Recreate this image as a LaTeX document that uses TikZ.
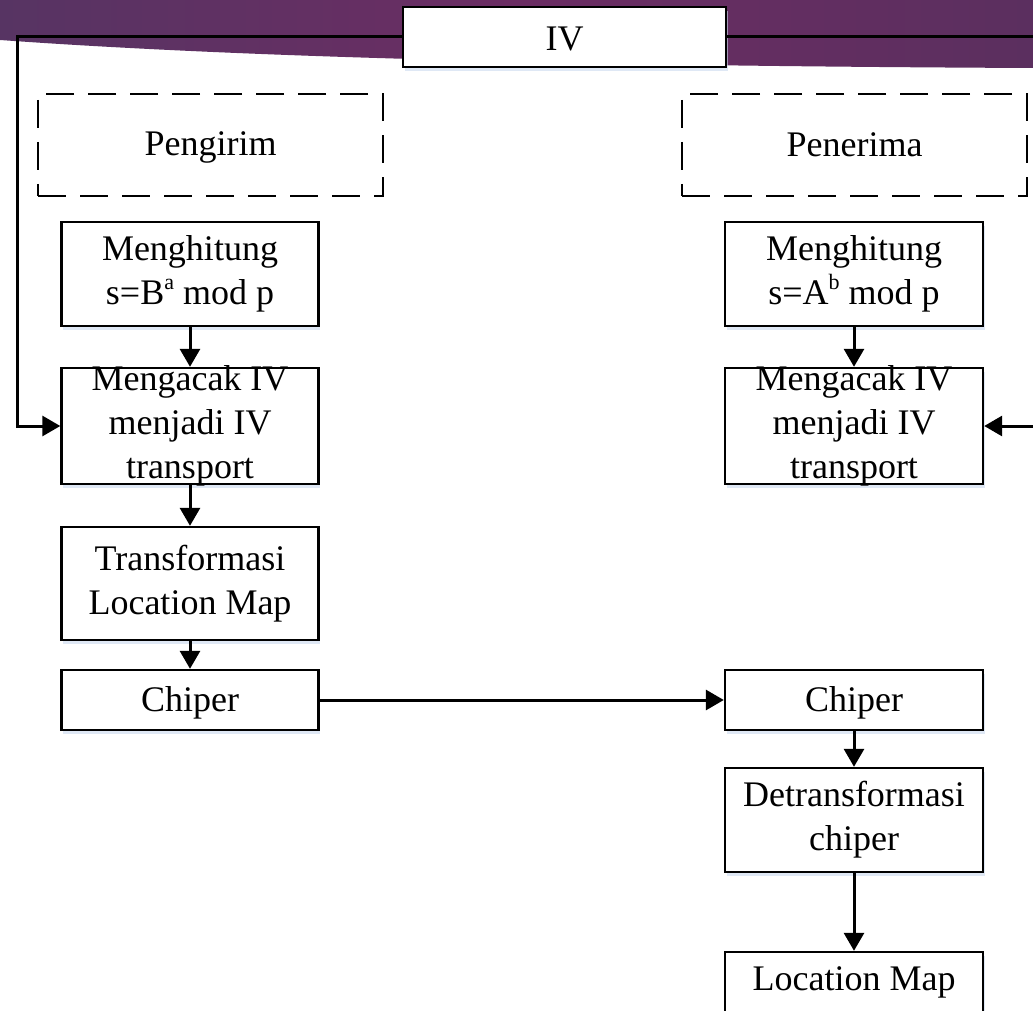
\documentclass[tikz,border=0pt]{standalone}
\usepackage{fontspec}
\setmainfont{Liberation Serif}
\usetikzlibrary{arrows.meta,shadows}
\definecolor{bandL}{HTML}{573463}
\definecolor{bandM}{HTML}{6B2D63}
\definecolor{bandR}{HTML}{5B2F5F}
\definecolor{shadowblue}{HTML}{C9D9EE}
\newcommand{\supx}[1]{\raisebox{0.42em}{\fontsize{22}{22}\selectfont #1}}
\begin{document}
\begin{tikzpicture}[x=1pt,y=-1pt,
  box/.style={draw, line width=2.4pt, fill=white, inner sep=0pt,
    drop shadow={shadow xshift=1.5pt, shadow yshift=-4pt, fill=shadowblue, opacity=0.6}},
  dbox/.style={draw, line width=2.4pt, dash pattern=on 28pt off 14pt, inner sep=0pt,
    minimum width=345pt, minimum height=102pt},
  txt/.style={font=\fontsize{36}{44}\selectfont, align=center, inner sep=0pt},
  arr/.style={line width=3pt, -{Triangle[length=18pt,width=20pt]}},
  ]
\useasboundingbox (0,0) rectangle (1033,1011);
\clip (0,0) rectangle (1033,1011);

% top band
\shade[left color=bandL, right color=bandR, middle color=bandM]
  (0,0) -- (1033,0) -- (1033,68) .. controls (600,66) and (250,58) .. (0,40) -- cycle;

% IV box
\node[box, minimum width=323pt, minimum height=60pt] (iv) at (564.5,37) {};
\node[txt] (ivt) at (564.5,39) {IV};

% dashed headers
\node[dbox] (peng) at (210.5,145) {};
\node[txt] (pengt) at (210.5,147) {Pengirim};
\node[dbox] (pene) at (854.5,145) {};
\node[txt] (penet) at (854.5,145) {Penerima};

% left column
\node[box, minimum width=257pt, minimum height=104pt] (L1) at (190,274) {};
\node[txt] (L1t) at (L1) {Menghitung\\s=B\supx{a} mod p};
\node[box, minimum width=257pt, minimum height=116pt] (L2) at (190,426) {};
\node[txt] (L2t) at (L2) {Mengacak IV\\menjadi IV\\transport};
\node[box, minimum width=257pt, minimum height=113pt] (L3) at (190,583.5) {};
\node[txt] (L3t) at (L3) {Transformasi\\Location Map};
\node[box, minimum width=257pt, minimum height=60pt] (L4) at (190,700) {};
\node[txt] (L4t) at (190,703) {Chiper};

% right column
\node[box, minimum width=258pt, minimum height=104pt] (R1) at (854,274) {};
\node[txt] (R1t) at (R1) {Menghitung\\s=A\supx{b} mod p};
\node[box, minimum width=258pt, minimum height=116pt] (R2) at (854,426) {};
\node[txt] (R2t) at (R2) {Mengacak IV\\menjadi IV\\transport};
\node[box, minimum width=258pt, minimum height=60pt] (R3) at (854,700) {};
\node[txt] (R3t) at (854,703) {Chiper};
\node[box, minimum width=258pt, minimum height=104pt] (R4) at (854,820) {};
\node[txt] (R4t) at (R4) {Detransformasi\\chiper};
\node[box, minimum width=258pt, minimum height=80pt] (R5) at (854,992) {};
\node[txt] (R5t) at (854,982) {Location Map};

% connectors
\draw[arr] (iv.west) -| (17,426) -- (L2.west);
\draw[arr] (iv.east) -| (1050,426) -- (R2.east);
\draw[arr] (L1.south) -- (L2.north);
\draw[arr] (L2.south) -- (L3.north);
\draw[arr] (L3.south) -- (L4.north);
\draw[arr] (L4.east) -- (R3.west);
\draw[arr] (R1.south) -- (R2.north);
\draw[arr] (R3.south) -- (R4.north);
\draw[arr] (R4.south) -- (R5.north);
\end{tikzpicture}
\end{document}
